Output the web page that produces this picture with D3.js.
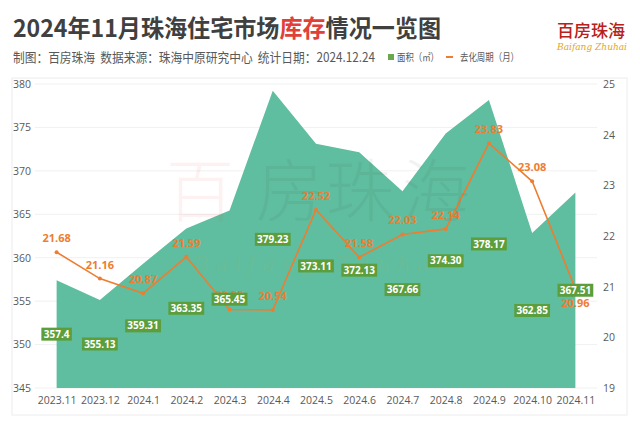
<!DOCTYPE html>
<html>
<head>
<meta charset="utf-8">
<script src="https://cdn.jsdelivr.net/npm/d3@7"></script>
<style>
  body { margin: 0; background: #fff; }
  svg { display: block; font-family: "Noto Sans CJK SC", "Noto Sans", sans-serif; }
</style>
</head>
<body>
<div id="app"></div>
<script>

//
// Data
//
const months = ['2023.11', '2023.12', '2024.1', '2024.2', '2024.3', '2024.4', '2024.5',
  '2024.6', '2024.7', '2024.8', '2024.9', '2024.10', '2024.11']
const area = [357.4, 355.13, 359.31, 363.35, 365.45, 379.23, 373.11, 372.13, 367.66, 374.30, 378.17, 362.85, 367.51]
const areaText = ['357.4', '355.13', '359.31', '363.35', '365.45', '379.23', '373.11',
  '372.13', '367.66', '374.30', '378.17', '362.85', '367.51']
const cycle = [21.68, 21.16, 20.87, 21.59, 20.55, 20.54, 22.52, 21.58, 22.03, 22.14, 23.83, 23.08, 20.96]
const leftTicks = [345, 350, 355, 360, 365, 370, 375, 380]
const rightTicks = [19, 20, 21, 22, 23, 24, 25]

//
// Constants
//
const width = 640
const height = 424
const plot = { left: 35, right: 597, top: 84, bottom: 388 }
const areaColor = '#5fbe9f'
const lineColor = '#ed7d31'
const boxColor = '#5c9e3c'

const svg = d3.select('#app').append('svg')
  .attr('width', width)
  .attr('height', height)

// frame around chart
svg.append('rect')
  .attr('x', 12).attr('y', 78)
  .attr('width', 615).attr('height', 337)
  .attr('fill', 'none')
  .attr('stroke', '#ececec')

// title
const title = svg.append('text')
  .attr('x', 13).attr('y', 37)
  .attr('font-size', 24).attr('font-weight', 'bold')
  .attr('fill', '#404040')
  .attr('textLength', 428).attr('lengthAdjust', 'spacingAndGlyphs')
title.append('tspan').text('2024年11月珠海住宅市场')
title.append('tspan').attr('fill', '#e0403a').text('库存')
title.append('tspan').text('情况一览图')

// subtitle
svg.append('text')
  .attr('x', 13).attr('y', 62)
  .attr('font-size', 13).attr('fill', '#595959')
  .style('white-space', 'pre')
  .attr('textLength', 362).attr('lengthAdjust', 'spacingAndGlyphs')
  .text('制图：百房珠海  数据来源：珠海中原研究中心  统计日期：2024.12.24')

// legend
svg.append('rect').attr('x', 388).attr('y', 54).attr('width', 6).attr('height', 6).attr('fill', '#6aa84f')
svg.append('text').attr('x', 397).attr('y', 61).attr('font-size', 10.5).attr('fill', '#595959')
  .attr('textLength', 42).attr('lengthAdjust', 'spacingAndGlyphs')
  .text('面积（㎡）')
svg.append('line').attr('x1', 446).attr('x2', 453).attr('y1', 57).attr('y2', 57)
  .attr('stroke', lineColor).attr('stroke-width', 2)
svg.append('text').attr('x', 460).attr('y', 61).attr('font-size', 10.5).attr('fill', '#595959')
  .attr('textLength', 59).attr('lengthAdjust', 'spacingAndGlyphs')
  .text('去化周期（月）')

// logo
svg.append('text').attr('x', 591).attr('y', 37).attr('text-anchor', 'middle')
  .attr('font-size', 17).attr('fill', '#b8211b').attr('font-weight', 500)
  .attr('textLength', 68).text('百房珠海')
svg.append('text').attr('x', 592).attr('y', 50).attr('text-anchor', 'middle')
  .attr('font-size', 9).attr('font-style', 'italic').attr('fill', '#e2a628')
  .attr('font-family', '"DejaVu Serif", serif')
  .attr('textLength', 70).text('Baifang Zhuhai')

//
// Scales
//
const x = d3.scalePoint().domain(months).range([plot.left, plot.right]).padding(0.5)
const yL = d3.scaleLinear().domain([345, 380]).range([plot.bottom, plot.top])
const yR = d3.scaleLinear().domain([19, 25]).range([plot.bottom, plot.top])

// gridlines
svg.append('g').selectAll('line').data(leftTicks).join('line')
  .attr('x1', plot.left).attr('x2', plot.right)
  .attr('y1', d => yL(d)).attr('y2', d => yL(d))
  .attr('stroke', '#f0f0f0')

// axes
const axisL = svg.append('g')
  .attr('transform', `translate(${plot.left - 4},0)`)
  .call(d3.axisLeft(yL).tickValues(leftTicks).tickSize(0).tickPadding(0))
const axisR = svg.append('g')
  .attr('transform', `translate(${plot.right + 6},0)`)
  .call(d3.axisRight(yR).tickValues(rightTicks).tickFormat(d3.format('d')).tickSize(0).tickPadding(0))
const axisX = svg.append('g')
  .attr('transform', `translate(0,${plot.bottom + 7})`)
  .call(d3.axisBottom(x).tickSize(0).tickPadding(0))
;[axisL, axisR, axisX].forEach(g => {
  g.select('.domain').remove()
  g.selectAll('text').attr('fill', '#595959').attr('font-size', 10.5)
    .attr('font-family', '"Open Sans", "Noto Sans", sans-serif')
})
axisX.selectAll('text').attr('dy', '0.9em')

// area series
const areaGen = d3.area()
  .x((d, i) => x(months[i]))
  .y0(plot.bottom)
  .y1(d => yL(d))
svg.append('path').datum(area)
  .attr('d', areaGen)
  .attr('fill', areaColor)

// cycle line
const lineGen = d3.line().x((d, i) => x(months[i])).y(d => yR(d))
svg.append('path').datum(cycle)
  .attr('d', lineGen)
  .attr('fill', 'none')
  .attr('stroke', lineColor)
  .attr('stroke-width', 1.6)
svg.append('g').selectAll('circle').data(cycle).join('circle')
  .attr('cx', (d, i) => x(months[i]))
  .attr('cy', d => yR(d))
  .attr('r', 2)
  .attr('fill', lineColor)

// cycle labels (last one sits below its point)
svg.append('g').selectAll('text').data(cycle).join('text')
  .attr('x', (d, i) => x(months[i]))
  .attr('y', (d, i) => i === cycle.length - 1 ? yR(d) + 18 : yR(d) - 10)
  .attr('text-anchor', 'middle')
  .attr('font-size', 11).attr('font-weight', 'bold')
  .attr('font-family', '"Open Sans", "Noto Sans", sans-serif')
  .attr('fill', lineColor)
  .text(d => d.toFixed(2))

// area labels, centred in the filled height
const boxes = svg.append('g').selectAll('g').data(area).join('g')
  .attr('transform', (d, i) => `translate(${x(months[i])},${(yL(d) + plot.bottom) / 2})`)
boxes.append('rect')
  .attr('x', (d, i) => -(areaText[i].length * 5.3 + 4) / 2)
  .attr('y', -6.5)
  .attr('width', (d, i) => areaText[i].length * 5.3 + 4)
  .attr('height', 13)
  .attr('fill', boxColor)
boxes.append('text')
  .attr('text-anchor', 'middle')
  .attr('dy', '0.36em')
  .attr('font-size', 10).attr('font-weight', 'bold')
  .attr('font-family', '"Open Sans", "Noto Sans", sans-serif')
  .attr('fill', '#fff')
  .text((d, i) => areaText[i])

// watermark
const wm = svg.append('g').attr('font-size', 68).attr('text-anchor', 'middle')
  .attr('font-weight', 300)
const wmChars = ['百', '房', '珠', '海']
const wmX = [200, 290, 360, 436]
wm.selectAll('text').data(wmChars).join('text')
  .attr('x', (d, i) => wmX[i])
  .attr('y', 216)
  .attr('fill', (d, i) => i === 0 ? '#e05050' : '#404040')
  .attr('fill-opacity', (d, i) => i === 0 ? 0.08 : 0.07)
  .text(d => d)
svg.append('text').attr('x', 318).attr('y', 272).attr('text-anchor', 'middle')
  .attr('font-size', 22).attr('font-style', 'italic')
  .attr('font-family', '"DejaVu Serif", serif')
  .attr('fill', '#e2a628').attr('fill-opacity', 0.07)
  .attr('textLength', 250)
  .text('Baifang Zhuhai')

</script>
</body>
</html>
